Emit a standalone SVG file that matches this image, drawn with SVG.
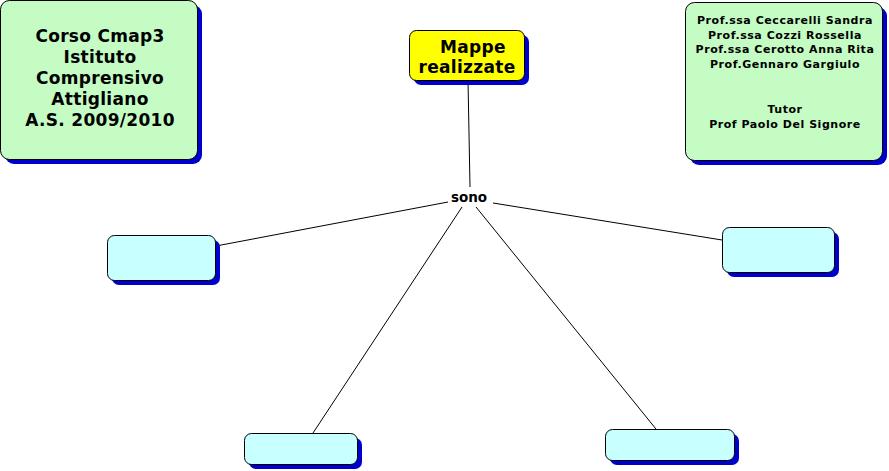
<svg xmlns="http://www.w3.org/2000/svg" width="889" height="471" viewBox="0 0 889 471">
<defs>
<style>
.sh{fill:#0000cc;}
.green{fill:#c4fcc4;stroke:#000;stroke-width:1;}
.yellow{fill:#ffff00;stroke:#000;stroke-width:1;}
.cyan{fill:#c8ffff;stroke:#000;stroke-width:1;}
text{font-family:"DejaVu Sans",Verdana,sans-serif;font-weight:bold;fill:#000;text-anchor:middle;}
.big{font-size:17px;letter-spacing:0.3px;}
.small{font-size:11px;letter-spacing:0.55px;}
.lbl{font-size:13.5px;}
.conn line{stroke:#000;stroke-width:1;}
</style>
</defs>
<rect width="889" height="471" fill="#fff"/>
<g class="conn">
<line x1="468" y1="80" x2="470" y2="187"/>
<line x1="448" y1="202" x2="216" y2="246"/>
<line x1="493" y1="203" x2="722" y2="240"/>
<line x1="462" y1="207" x2="313" y2="433"/>
<line x1="476" y1="207" x2="656" y2="429"/>
</g>
<g id="node-corso">
<rect class="sh" x="5" y="5" width="197" height="159" rx="9"/>
<rect class="green" x="0.5" y="0.5" width="197" height="159" rx="9"/>
<text class="big" x="100" y="42">Corso Cmap3</text>
<text class="big" x="100" y="63">Istituto</text>
<text class="big" x="100" y="84">Comprensivo</text>
<text class="big" x="100" y="105">Attigliano</text>
<text class="big" x="100" y="126">A.S. 2009/2010</text>
</g>
<g id="node-mappe">
<rect class="sh" x="414" y="35" width="115" height="50" rx="7"/>
<rect class="yellow" x="409.5" y="30.5" width="115" height="50" rx="7"/>
<text class="big" x="473" y="53">Mappe</text>
<text class="big" x="467" y="73">realizzate</text>
</g>
<g id="node-prof">
<rect class="sh" x="690" y="7" width="197" height="158" rx="9"/>
<rect class="green" x="685.5" y="2.5" width="197" height="158" rx="9"/>
<text class="small" x="785" y="24">Prof.ssa Ceccarelli Sandra</text>
<text class="small" x="785" y="38.5">Prof.ssa Cozzi Rossella</text>
<text class="small" x="785" y="53">Prof.ssa Cerotto Anna Rita</text>
<text class="small" x="785" y="67.5">Prof.Gennaro Gargiulo</text>
<text class="small" x="785" y="113">Tutor</text>
<text class="small" x="785" y="128">Prof Paolo Del Signore</text>
</g>
<g id="label-sono">
<text class="lbl" x="469" y="202">sono</text>
</g>
<g id="node-left">
<rect class="sh" x="112" y="240" width="108" height="45" rx="7"/>
<rect class="cyan" x="107.5" y="235.5" width="108" height="45" rx="7"/>
</g>
<g id="node-right">
<rect class="sh" x="727" y="232" width="112" height="45" rx="7"/>
<rect class="cyan" x="722.5" y="227.5" width="112" height="45" rx="7"/>
</g>
<g id="node-bottom-left">
<rect class="sh" x="249" y="438" width="113" height="31" rx="7"/>
<rect class="cyan" x="244.5" y="433.5" width="113" height="31" rx="7"/>
</g>
<g id="node-bottom-right">
<rect class="sh" x="610" y="434" width="129" height="31" rx="7"/>
<rect class="cyan" x="605.5" y="429.5" width="129" height="31" rx="7"/>
</g>
</svg>
